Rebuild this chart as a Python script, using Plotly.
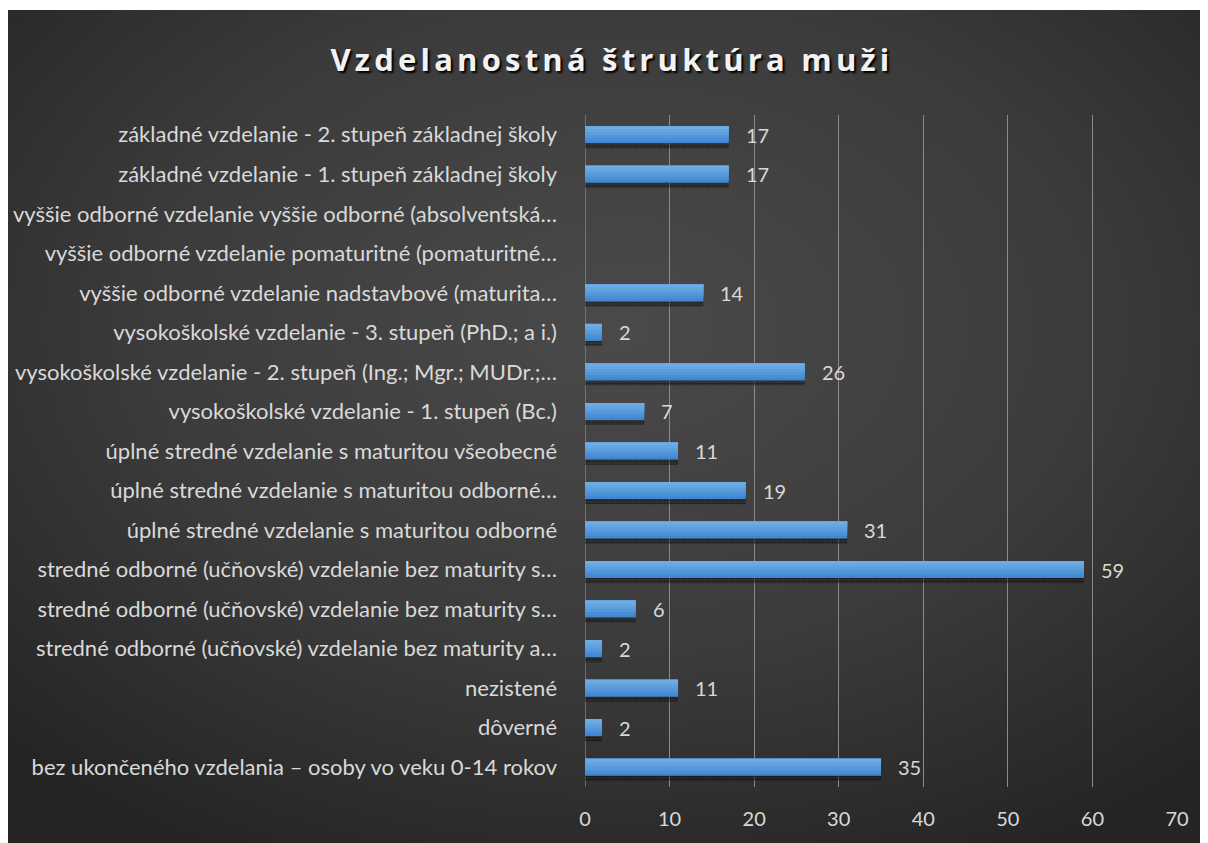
import base64
import plotly.graph_objects as go

# ---- data (bottom to top, as drawn) ----
categories = [
    "bez ukončeného vzdelania – osoby vo veku 0-14 rokov",
    "dôverné",
    "nezistené",
    "stredné odborné (učňovské) vzdelanie bez maturity a…",
    "stredné odborné (učňovské) vzdelanie bez maturity s…",
    "stredné odborné (učňovské) vzdelanie bez maturity s…",
    "úplné stredné vzdelanie s maturitou odborné",
    "úplné stredné vzdelanie s maturitou odborné…",
    "úplné stredné vzdelanie s maturitou všeobecné",
    "vysokoškolské vzdelanie - 1. stupeň (Bc.)",
    "vysokoškolské vzdelanie - 2. stupeň (Ing.; Mgr.; MUDr.;…",
    "vysokoškolské vzdelanie - 3. stupeň (PhD.; a i.)",
    "vyššie odborné vzdelanie nadstavbové (maturita…",
    "vyššie odborné vzdelanie pomaturitné (pomaturitné…",
    "vyššie odborné vzdelanie vyššie odborné (absolventská…",
    "základné vzdelanie - 1. stupeň základnej školy",
    "základné vzdelanie - 2. stupeň základnej školy",
]
values = [35, 2, 11, 2, 6, 59, 31, 19, 11, 7, 26, 2, 14, None, None, 17, 17]
x_ticks = [0, 10, 20, 30, 40, 50, 60, 70]
title_text = "Vzdelanostná štruktúra muži"

positions = list(range(len(categories)))

OFF = 8  # page body margin
W, H = 1200, 835
ML, MR, MT, MB = 585 - OFF, 31, 115 - OFF, 56
PW, PH = W - ML - MR, H - MT - MB


def px_x(p):  # reference pixel -> paper
    return (p - OFF - ML) / PW


def px_y(p):
    return (H - MB - (p - OFF)) / PH


fig = go.Figure()

BW = 0.43
# shadow
fig.add_trace(go.Bar(
    x=values, y=positions, orientation="h", width=BW, offset=-BW / 2 - 0.13,
    marker=dict(color="rgba(0,0,0,0)", line=dict(width=0),
                pattern=dict(shape=".", fgcolor="rgba(5,5,5,0.95)", bgcolor="rgba(30,30,30,0.25)",
                             size=3, solidity=0.6)),
    hoverinfo="skip", showlegend=False,
))
# gradient strips of main bar (bottom darker -> top lighter), overlapping to avoid seams
strip_colors = ["#4287d2", "#4b8fd6", "#5497da", "#5d9fdd", "#66a6e0", "#6facE3"]
n = len(strip_colors)
sw = BW / n
for i, c in enumerate(strip_colors):
    fig.add_trace(go.Bar(
        x=values, y=positions, orientation="h", width=BW - i * sw,
        offset=-BW / 2 + i * sw,
        marker=dict(color=c, line=dict(width=0)),
        hoverinfo="skip", showlegend=False,
    ))

# data labels
for p, v in zip(positions, values):
    if v is None:
        continue
    fig.add_annotation(x=v, y=p, text=str(v), showarrow=False, xanchor="left",
                       xshift=15, yshift=0,
                       font=dict(family="Lato", size=20, color="#d9d9d9"))

# background panel: radial gradient as an inline SVG image
svg = ('<svg xmlns="http://www.w3.org/2000/svg" width="1200" height="833" viewBox="0 0 1200 833">'
       '<defs><radialGradient id="g" cx="0.51" cy="0.38" r="0.72">'
       '<stop offset="0" stop-color="#4a4a4a"/><stop offset="0.55" stop-color="#3b3b3b"/>'
       '<stop offset="1" stop-color="#242424"/></radialGradient></defs>'
       '<rect width="1200" height="833" fill="url(#g)"/></svg>')
bg_src = "data:image/svg+xml;base64," + base64.b64encode(svg.encode()).decode()
fig.add_layout_image(dict(source=bg_src, xref="paper", yref="paper",
                          x=px_x(8), y=px_y(10), xanchor="left", yanchor="top",
                          sizex=(1208 - 8) / PW, sizey=(843 - 10) / PH,
                          sizing="stretch", layer="below"))

fig.update_layout(
    width=W, height=H,
    margin=dict(l=ML, r=MR, t=MT, b=MB),
    paper_bgcolor="white",
    plot_bgcolor="rgba(0,0,0,0)",
    barmode="overlay",
    showlegend=False,
    title=dict(text='<span style="letter-spacing:4.2px">' + title_text + '</span>',
               x=(612 - OFF) / W, xanchor="center", y=1 - (60 - OFF) / H, yanchor="middle",
               font=dict(family="Open Sans", size=31, color="#f2f2f2", weight="bold",
                         shadow="2px 2px 2px #000")),
    xaxis=dict(range=[0, 70], tickvals=x_ticks, showgrid=True, gridcolor="#8a8a8a", gridwidth=1.3,
               zeroline=False, showline=False, ticks="outside", ticklen=14,
               tickcolor="rgba(0,0,0,0)", automargin=False,
               tickfont=dict(family="Lato", size=20, color="#d9d9d9"), fixedrange=True),
    yaxis=dict(range=[-0.5, 16.5], tickvals=positions, ticktext=categories, showgrid=False,
               zeroline=False, showline=False, ticks="", ticklabelstandoff=27, automargin=False,
               tickfont=dict(family="Lato", size=22, color="#d9d9d9"), fixedrange=True),
)
# axis line at 0
fig.add_shape(type="line", xref="x", yref="paper", x0=0, x1=0, y0=0, y1=1,
              line=dict(color="#8a8a8a", width=1.3), layer="below")

fig.write_html("out.html")
